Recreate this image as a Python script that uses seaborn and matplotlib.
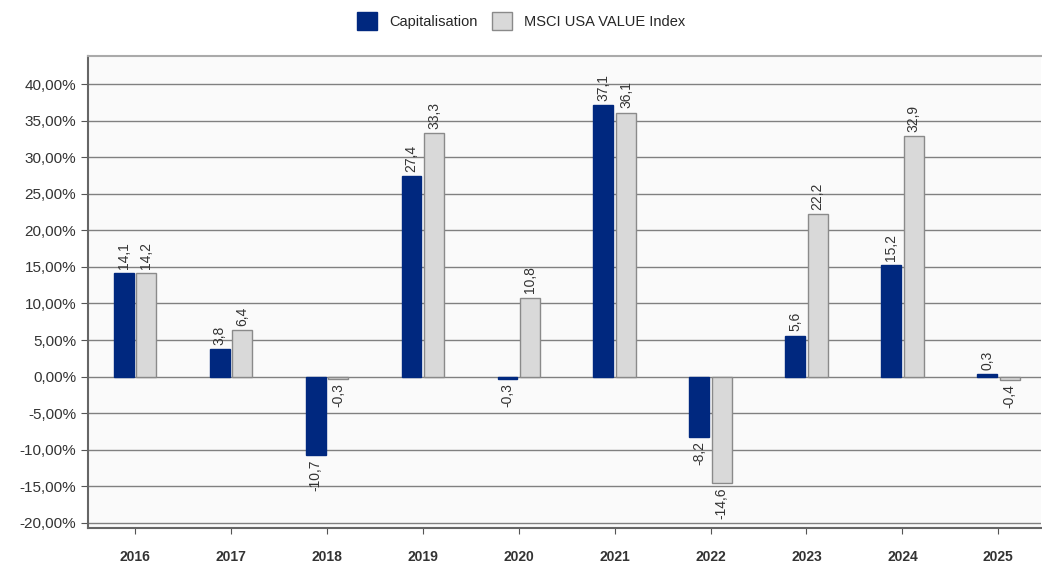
import matplotlib
matplotlib.use("Agg")
import matplotlib.pyplot as plt
import seaborn as sns
import pandas as pd

years = ["2016", "2017", "2018", "2019", "2020", "2021", "2022", "2023", "2024", "2025"]
capitalisation = [14.1, 3.8, -10.7, 27.4, -0.3, 37.1, -8.2, 5.6, 15.2, 0.3]
msci_value = [14.2, 6.4, -0.3, 33.3, 10.8, 36.1, -14.6, 22.2, 32.9, -0.4]
series_names = ["Capitalisation", "MSCI USA VALUE Index"]

df = pd.DataFrame({
    "year": years * 2,
    "value": capitalisation + msci_value,
    "series": [series_names[0]] * len(years) + [series_names[1]] * len(years),
})

sns.set_style("white")
plt.rcParams["font.family"] = ["Liberation Sans", "DejaVu Sans"]

fig = plt.figure(figsize=(10.42, 5.65), dpi=100)
ax = fig.add_axes([0.0845, 0.0655, 0.915, 0.835])
ax.set_facecolor("#fafafa")

palette = {series_names[0]: "#00287f", series_names[1]: "#d9d9d9"}
sns.barplot(data=df, x="year", y="value", hue="series", palette=palette,
            width=0.47, gap=0.12, saturation=1, ax=ax, zorder=3,
            edgecolor="#8a8a8a", linewidth=1, legend=False)

# only the grey bars get a visible outline
for bar in ax.containers[0]:
    bar.set_edgecolor("#00287f")

for cont, vals in zip(ax.containers, [capitalisation, msci_value]):
    labels = [f"{v:.1f}".replace(".", ",") for v in vals]
    ax.bar_label(cont, labels=labels, rotation=90, padding=3,
                 fontsize=10, color="#333333")

ax.set_ylim(-20.7, 43.8)
ticks = list(range(-20, 41, 5))
ax.set_yticks(ticks)
ax.set_yticklabels([f"{t:.2f}".replace(".", ",") + "%" for t in ticks],
                   fontsize=11, color="#333333")
ax.set_xlim(-0.49, 9.45)
ax.set_xlabel("")
ax.set_ylabel("")
ax.tick_params(axis="x", labelsize=10, colors="#555555", length=4, pad=12,
               bottom=True)
ax.tick_params(axis="y", length=5, left=True, colors="#555555")
for lbl in ax.get_xticklabels():
    lbl.set_fontweight("bold")
    lbl.set_color("#333333")
for lbl in ax.get_yticklabels():
    lbl.set_color("#333333")

ax.yaxis.grid(True, color="#808080", linewidth=1)
ax.set_axisbelow(True)
ax.spines["right"].set_visible(False)
ax.spines["top"].set_color("#aaaaaa")
ax.spines["top"].set_linewidth(1.5)
for side in ["left", "bottom"]:
    ax.spines[side].set_color("#666666")
    ax.spines[side].set_linewidth(1.5)

handles = [plt.Rectangle((0, 0), 1, 1, facecolor=palette[s],
                         edgecolor="#8a8a8a" if i else palette[s])
           for i, s in enumerate(series_names)]
fig.legend(handles, series_names, loc="center", bbox_to_anchor=(0.5, 0.963),
           ncol=2, frameon=False, fontsize=10.5, handlelength=1.4,
           handleheight=1.6, columnspacing=1.0, handletextpad=0.8)

fig.savefig("out.png", dpi=100)
